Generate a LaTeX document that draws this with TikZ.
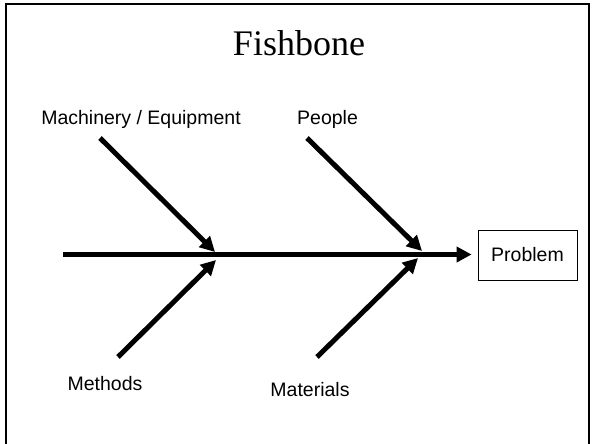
\documentclass[tikz,border=0pt]{standalone}
\usepackage{fontspec}
\setmainfont{Liberation Serif}
\setsansfont{Liberation Sans}
\usetikzlibrary{arrows.meta,positioning}

\begin{document}
\begin{tikzpicture}[x=1pt,y=-1pt,
  font=\sffamily\fontsize{19.5}{22}\selectfont,
  bone/.style={line width=5pt,-{Triangle[length=15pt,width=15pt]}},
  lbl/.style={inner sep=0pt,anchor=base},
  box/.style={draw,line width=0.8pt,minimum width=99pt,minimum height=50pt,inner sep=0pt}]
\useasboundingbox (0,0) rectangle (594,444);
\draw[line width=2pt] (6,446) -- (6,4.5) -- (589,4.5) -- (589,446);
\node[inner sep=0pt,anchor=base,font=\rmfamily\fontsize{36}{40}\selectfont] (title) at (299,56) {Fishbone};
% spine and head
\coordinate (tail) at (63,254.5);
\node[box] (prob) at (527.5,255) {Problem};
\draw[bone,shorten >=6pt] (tail) -- (prob.west |- tail);
% bone ends
\coordinate (j1u) at (215,252);
\coordinate (j1d) at (216,260);
\coordinate (j2u) at (422,251);
\coordinate (j2d) at (418,258);
\coordinate (c1) at (100,138);
\coordinate (c2) at (307,138);
\coordinate (c3) at (118,357);
\coordinate (c4) at (317,357);
\draw[bone] (c1) -- (j1u);
\draw[bone] (c2) -- (j2u);
\draw[bone] (c3) -- (j1d);
\draw[bone] (c4) -- (j2d);
% causes
\node[lbl] (mach) at (141,124) {Machinery / Equipment};
\node[lbl,anchor=base west] (ppl) at (297,124) {People};
\node[lbl] (meth) at (105,390) {Methods};
\node[lbl] (mat) at (310,396) {Materials};
\end{tikzpicture}
\end{document}
